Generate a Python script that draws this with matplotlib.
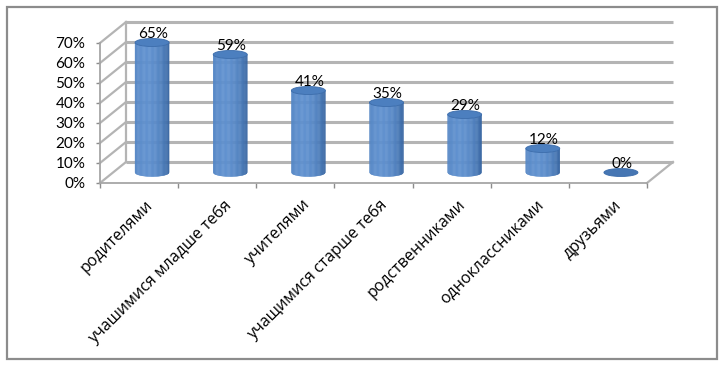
import matplotlib
matplotlib.use('Agg')
import matplotlib.pyplot as plt
import numpy as np
from matplotlib.collections import PolyCollection
from matplotlib.patches import Ellipse, Rectangle
from matplotlib.colors import to_rgb

plt.rcParams['font.family'] = ['Lato', 'Open Sans', 'DejaVu Sans']

categories = ['родителями', 'учашимися младше тебя', 'учителями', 'учащимися старше тебя',
              'родственниками', 'одноклассниками', 'друзьями']
values     = [0.65, 0.59, 0.41, 0.35, 0.29, 0.12, 0.0]
labels     = ['65%', '59%', '41%', '35%', '29%', '12%', '0%']
yticks     = [0.0, 0.1, 0.2, 0.3, 0.4, 0.5, 0.6, 0.7]

W_PX, H_PX = 723, 365
fig = plt.figure(figsize=(W_PX / 100, H_PX / 100), dpi=100)
fig.patch.set_facecolor('white')

# front plane of the pseudo-3D box, in pixels
ax = fig.add_axes([100 / W_PX, 182 / H_PX, 547 / W_PX, 140 / H_PX])
n = len(categories)
ax.set_xlim(0, n)
ax.set_ylim(0, 0.7)
ax.set_facecolor('none')

px_x = 547 / n      # pixels per category
px_y = 140 / 0.7    # pixels per unit
DX = 26 / px_x      # depth offset in data units
DY = 21 / px_y

grid_c = '#b4b4b4'
# back wall gridlines + left wall diagonals
for v in yticks:
    ax.plot([DX, n + DX], [v + DY, v + DY], color=grid_c, lw=2.2, zorder=1, clip_on=False,
            solid_capstyle='butt')
    ax.plot([0, DX], [v, v + DY], color=grid_c, lw=1.6, zorder=1, clip_on=False)
ax.plot([DX, DX], [DY, 0.7 + DY], color=grid_c, lw=1.6, zorder=1, clip_on=False)
# right floor edge
ax.plot([n, n + DX], [0, DY], color=grid_c, lw=1.6, zorder=1, clip_on=False)

# axes spines / ticks
for s in ['top', 'right']:
    ax.spines[s].set_visible(False)
for s in ['left', 'bottom']:
    ax.spines[s].set_color('#a6a6a6')
    ax.spines[s].set_linewidth(1.3)
ax.set_yticks(yticks)
ax.set_yticklabels([f'{int(round(v * 100))}%' for v in yticks], fontsize=11)
ax.set_xticks(np.arange(n + 1))
ax.set_xticklabels([])
ax.tick_params(axis='y', direction='out', length=3, width=1, color='#8c8c8c', pad=7.5)
ax.tick_params(axis='x', direction='out', length=3.5, width=1, color='#8c8c8c')

# cylinders
BW = 34 / px_x
EH = 8 / px_y
dark  = np.array(to_rgb('#2c5a96'))
light = np.array(to_rgb('#5e90cf'))
nstrip = 40
for i, (v, lab) in enumerate(zip(values, labels)):
    cx = i + 0.5 + DX / 2
    base = DY / 2
    edges = np.linspace(-1, 1, nstrip + 1)
    polys, cols = [], []
    for k in range(nstrip):
        ta, tb = edges[k], edges[k + 1]
        xa, xb = cx + ta * BW / 2, cx + tb * BW / 2
        ya = (EH / 2) * np.sqrt(max(0, 1 - ta ** 2))
        yb = (EH / 2) * np.sqrt(max(0, 1 - tb ** 2))
        polys.append([(xa, base - ya), (xb, base - yb), (xb, base + v - yb), (xa, base + v - ya)])
        t = (ta + tb) / 2
        b = 1 - ((t + 0.3) / 1.35) ** 2
        b = np.clip(b, 0, 1) ** 0.7
        cols.append(dark + (light - dark) * b)
    if v > 0:
        pc = PolyCollection(polys, facecolors=cols, edgecolors=cols, linewidths=0.3, zorder=3)
        pc.set_clip_on(False)
        ax.add_collection(pc)
    top = Ellipse((cx, base + v), BW, EH, facecolor='#4c7fbf' if v > 0 else '#4676b3',
                  edgecolor='#3b6cab', lw=0.6, zorder=4, clip_on=False)
    ax.add_patch(top)
    ax.annotate(lab, xy=(cx, base + v + EH / 2), xytext=(1, 1), textcoords='offset pixels',
                ha='center', va='baseline', fontsize=11, annotation_clip=False, zorder=5)

# category labels
for i, c in enumerate(categories):
    ax.annotate(c, xy=(i + 0.5, 0), xytext=(6, -14), textcoords='offset pixels',
                ha='right', va='top', rotation=45, rotation_mode='anchor',
                fontsize=11.5, family=['Open Sans', 'DejaVu Sans'], annotation_clip=False)

# outer frame
fig.patches.append(Rectangle((7 / W_PX, (H_PX - 359) / H_PX), 710 / W_PX, 352 / H_PX,
                             transform=fig.transFigure, fill=False,
                             edgecolor='#8c8c8c', lw=1.6))

fig.savefig('out.png', dpi=100)
